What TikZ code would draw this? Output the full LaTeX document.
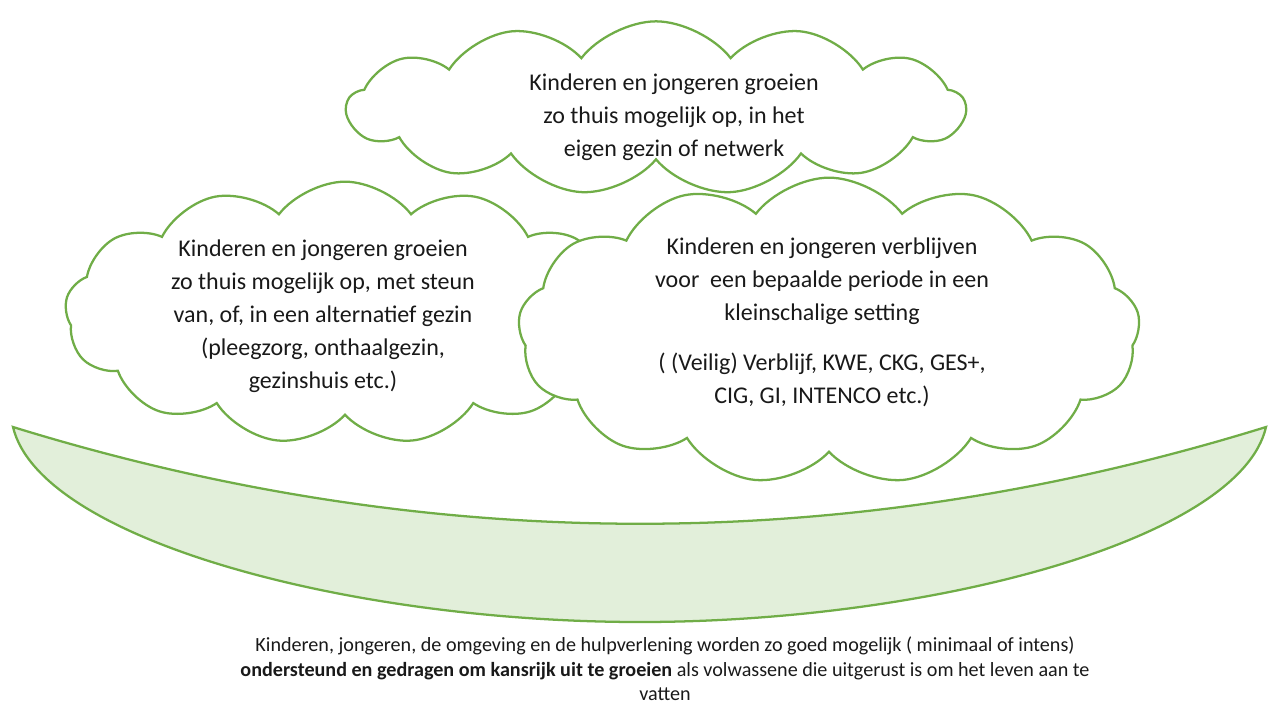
\documentclass[tikz,border=0pt]{standalone}
\usepackage{fontspec}
\setmainfont{Carlito}
\usetikzlibrary{shapes}
\definecolor{groen}{HTML}{70AD47}
\definecolor{lichtgroen}{HTML}{E2EFDA}

\begin{document}
\begin{tikzpicture}[x=0.75pt,y=-0.75pt,
wolk/.style={draw=groen,line width=1.7pt,fill=white,cloud,cloud puffs=13,cloud puff arc=105,cloud ignores aspect,inner sep=0pt},
wolktekst/.style={align=center,text=black!90,font=\fontsize{18}{24.75}\selectfont},
kom/.style={draw=groen,line width=1.7pt,fill=lichtgroen},
onderschrift/.style={align=center,inner sep=0pt,text=black!90,font=\fontsize{15.1}{18.4}\selectfont}
]
\useasboundingbox (0,0) rectangle (1269,704);
\clip (0,0) rectangle (1269,704);
%--
\coordinate (komL) at (13,427);
\coordinate (komM) at (640,622);
\coordinate (komR) at (1266,427);
\draw[kom] (komL) .. controls (40,540) and (350,622) .. (komM)
  .. controls (930,622) and (1240,540) .. (komR)
  .. controls (849,556) and (431,556) .. (komL) -- cycle;
%--
\node[wolk,minimum width=463.5pt,minimum height=130pt] (thuis) at (656,108) {};
\node[wolktekst] (thuistekst) at (674,117) {Kinderen en jongeren groeien\\zo thuis mogelijk op, in het\\eigen gezin of netwerk};
%--
\node[wolk,minimum width=420pt,minimum height=197pt] (alternatief) at (345,313) {};
\node[wolktekst] (alternatieftekst) at (323,316) {Kinderen en jongeren groeien\\zo thuis mogelijk op, met steun\\van, of, in een alternatief gezin\\(pleegzorg, onthaalgezin,\\gezinshuis etc.)};
%--
\node[wolk,minimum width=466.5pt,minimum height=230pt] (verblijf) at (829,331) {};
\node[wolktekst] (verblijftekst) at (822,322) {Kinderen en jongeren verblijven\\voor \ een bepaalde periode in een\\kleinschalige setting\\[12.75pt]( (Veilig) Verblijf, KWE, CKG, GES+,\\CIG, GI, INTENCO etc.)};
%--
\node[onderschrift] (doel) at (665,669) {Kinderen, jongeren, de omgeving en de hulpverlening worden zo goed mogelijk ( minimaal of intens)\\\textbf{ondersteund en gedragen om kansrijk uit te groeien} als volwassene die uitgerust is om het leven aan te\\vatten};
\end{tikzpicture}
\end{document}
